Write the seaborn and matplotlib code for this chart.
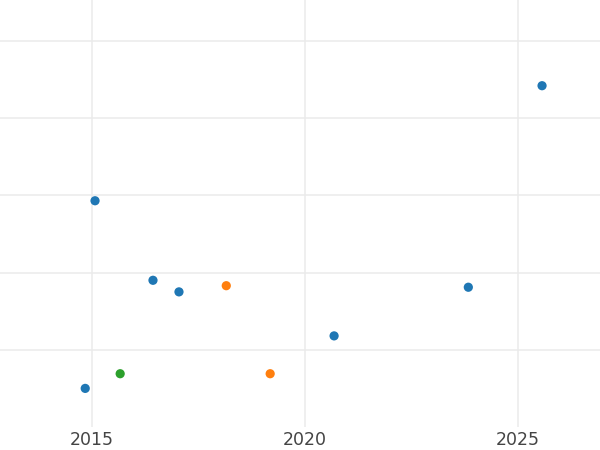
import matplotlib
matplotlib.use("Agg")
import matplotlib.pyplot as plt
import seaborn as sns
import pandas as pd

years = [2014.84, 2015.07, 2015.66, 2016.43, 2017.04, 2018.15, 2019.18, 2020.68, 2023.83, 2025.56]
values = [5.0, 29.3, 6.9, 19.0, 17.5, 18.3, 6.9, 11.8, 18.1, 44.2]
groups = ["A", "A", "C", "A", "A", "B", "B", "A", "A", "A"]
palette = {"A": "#1f77b4", "B": "#ff7f0e", "C": "#2ca02c"}
x_ticks = [2015, 2020, 2025]
y_grid = [10, 20, 30, 40, 50]

df = pd.DataFrame({"year": years, "value": values, "group": groups})

sns.set_theme(style="white")
fig = plt.figure(figsize=(6, 4.5), dpi=100)
ax = fig.add_axes([0, 1 - 427 / 450, 1, 427 / 450])

sns.scatterplot(data=df, x="year", y="value", hue="group", palette=palette,
                s=44, linewidth=0, legend=False, ax=ax, zorder=3)

ax.set_xlim(2012.84, 2026.92)
ax.set_ylim(0, 55.3)
ax.set_xticks(x_ticks)
ax.set_xticklabels([str(t) for t in x_ticks])
ax.set_yticks(y_grid)
ax.set_yticklabels([])
ax.grid(True, color="#ebebeb", linewidth=1.1)
ax.set_axisbelow(True)
for s in ax.spines.values():
    s.set_visible(False)
ax.tick_params(axis="x", length=0, pad=3, labelsize=12.5, labelcolor="#444444")
ax.tick_params(axis="y", length=0)
ax.set_xlabel("")
ax.set_ylabel("")

fig.savefig("out.png", dpi=100)
